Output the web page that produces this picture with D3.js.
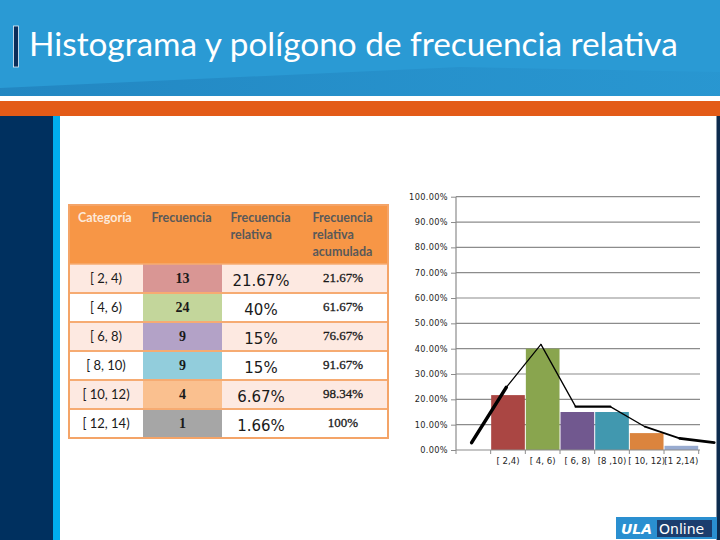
<!DOCTYPE html>
<html><head><meta charset="utf-8">
<script src="https://cdn.jsdelivr.net/npm/d3@7"></script>
<style>
html,body{margin:0;padding:0;background:#fff;}
svg{display:block;}
</style></head>
<body>
<svg id="c" width="720" height="540"></svg>
<script>
// ---- data ----
const titleText = "Histograma y polígono de frecuencia relativa";
const headers = [["Categoría"],["Frecuencia"],["Frecuencia","relativa"],["Frecuencia","relativa","acumulada"]];
const categories = ["[ 2, 4)","[ 4, 6)","[ 6, 8)","[ 8, 10)","[ 10, 12)","[ 12, 14)"];
const frequency = [13,24,9,9,4,1];
const relFreqLabels = ["21.67%","40%","15%","15%","6.67%","1.66%"];
const cumLabels = ["21.67%","61.67%","76.67%","91.67%","98.34%","100%"];
const relFreq = [21.67,40,15,15,6.67,1.66];
const axisLabels = ["","[ 2,4)","[ 4, 6)","[ 6, 8)","[8 ,10)","[ 10, 12)","[1 2,14)"];
const polygonValues = [2.9,24.7,41.7,17.1,17.1,9.2,4.6,2.9];
const yTickValues = [0,10,20,30,40,50,60,70,80,90,100];

// ---- styles ----
const barColors = ["#aa4643","#89a54e","#71588f","#4198af","#db843d","#98abd0"];
const cellColors = ["#d99694","#c3d69b","#b3a2c7","#92cddc","#fac08f","#a6a6a6"];
const segWidths = [3.5,1.2,1.3,2.2,1.3,1.8,2.6];

const svg = d3.select("#c");

// ---- slide frame ----
const defs = svg.append("defs");
const g1 = defs.append("linearGradient").attr("id","wedge").attr("x1","0").attr("x2","1").attr("y1","0").attr("y2","0");
g1.append("stop").attr("offset","0").attr("stop-color","#1c77b3").attr("stop-opacity",0.55);
g1.append("stop").attr("offset","0.6").attr("stop-color","#1c77b3").attr("stop-opacity",0.25);
g1.append("stop").attr("offset","1").attr("stop-color","#1c77b3").attr("stop-opacity",0.1);
svg.append("rect").attr("x",0).attr("y",0).attr("width",720).attr("height",96).attr("fill","#2a9ad4");
svg.append("path").attr("d","M0,88 L460,67 L720,72 L720,96 L0,96 Z").attr("fill","url(#wedge)");
svg.append("rect").attr("x",0).attr("y",101).attr("width",720).attr("height",15).attr("fill","#e35b18");
svg.append("rect").attr("x",0).attr("y",116).attr("width",53).attr("height",424).attr("fill","#00305f");
svg.append("rect").attr("x",53).attr("y",116).attr("width",7).attr("height",424).attr("fill","#00aeef");
svg.append("rect").attr("x",716.5).attr("y",116).attr("width",3.5).attr("height",424).attr("fill","#0d2b4e");

// title
svg.append("rect").attr("x",13.5).attr("y",26).attr("width",5).attr("height",41).attr("fill","#0b2d5a")
  .attr("stroke","#e8f2fa").attr("stroke-width",0.8);
const title = svg.append("text").attr("x",29).attr("y",56).attr("fill","#ffffff")
  .attr("font-family","Lato, 'Open Sans', sans-serif").attr("font-size",31).text(titleText);
const tw = title.node().getComputedTextLength();
title.attr("font-size", 31*649/tw);

// ---- table ----
const tx0 = 69, tx1 = 388;
const colEdges = [69,143,222,304,388];
const headerTop = 205, headerBottom = 264, tableBottom = 438;
const rowY = d3.scaleBand().domain(d3.range(categories.length)).range([headerBottom, tableBottom]);
const tbl = svg.append("g");
tbl.append("rect").attr("x",tx0).attr("y",headerTop).attr("width",tx1-tx0).attr("height",headerBottom-headerTop).attr("fill","#f79646");
categories.forEach((c,i)=>{
  const y0 = rowY(i), h = rowY.bandwidth();
  tbl.append("rect").attr("x",tx0).attr("y",y0).attr("width",tx1-tx0).attr("height",h).attr("fill", i%2===0 ? "#fde9e1" : "#ffffff");
  tbl.append("rect").attr("x",colEdges[1]).attr("y",y0).attr("width",colEdges[2]-colEdges[1]).attr("height",h).attr("fill",cellColors[i]);
  if(i>0) tbl.append("line").attr("x1",tx0).attr("x2",tx1).attr("y1",y0).attr("y2",y0).attr("stroke","#f6ab72").attr("stroke-width",2.2);
  const cy = y0 + h/2;
  tbl.append("text").attr("x",(colEdges[0]+colEdges[1])/2).attr("y",cy+4.5).attr("text-anchor","middle")
    .attr("font-family","Lato, sans-serif").attr("font-size",13).attr("fill","#1a1a1a").text(c);
  tbl.append("text").attr("x",(colEdges[1]+colEdges[2])/2).attr("y",cy+4.5).attr("text-anchor","middle")
    .attr("font-family","'Liberation Serif', serif").attr("font-weight","bold").attr("font-size",14).attr("fill","#1a1a1a").text(frequency[i]);
  tbl.append("text").attr("x",(colEdges[2]+colEdges[3])/2 - 2).attr("y",cy+7).attr("text-anchor","middle")
    .attr("font-family","'DejaVu Sans', sans-serif").attr("font-size",15).attr("fill","#1a1a1a").text(relFreqLabels[i]);
  tbl.append("text").attr("x",(colEdges[3]+colEdges[4])/2 - 3).attr("y",cy+3.5).attr("text-anchor","middle")
    .attr("font-family","'Liberation Serif', serif").attr("font-size",13).attr("fill","#1a1a1a")
    .attr("stroke","#1a1a1a").attr("stroke-width",0.3).text(cumLabels[i]);
});
tbl.append("line").attr("x1",tx0).attr("x2",tx1).attr("y1",headerBottom).attr("y2",headerBottom).attr("stroke","#f6ab72").attr("stroke-width",1.5);
tbl.append("rect").attr("x",tx0).attr("y",headerTop).attr("width",tx1-tx0).attr("height",tableBottom-headerTop)
  .attr("fill","none").attr("stroke","#f4a468").attr("stroke-width",2);
headers.forEach((lines,j)=>{
  lines.forEach((t,k)=>{
    tbl.append("text").attr("x",colEdges[j]+ (j===0?9:8.5)).attr("y",222+k*17)
      .attr("font-family","Lato, sans-serif").attr("font-weight","bold").attr("font-size",12.5)
      .attr("fill", j===0 ? "#fde9d9" : "#595959").text(t);
  });
});

// ---- chart ----
const y = d3.scaleLinear().domain([0,100]).range([450,196.7]);
const x = d3.scaleBand().domain(axisLabels).range([456,698.7]).paddingInner(0).paddingOuter(0);
const xi = d3.scaleLinear().domain([0,axisLabels.length]).range([456,698.7]);
const ch = svg.append("g");

// gridlines
ch.selectAll("line.grid").data(yTickValues.filter(d=>d>0)).join("line").attr("class","grid")
  .attr("x1",456).attr("x2",700).attr("y1",d=>y(d)).attr("y2",d=>y(d))
  .attr("stroke","#8c8c8c").attr("stroke-width",1.2);

// y axis
const yAxis = ch.append("g").attr("transform","translate(456,0)")
  .call(d3.axisLeft(y).tickValues(yTickValues).tickFormat(d=>d.toFixed(2)+"%").tickSize(5).tickPadding(3));
yAxis.select(".domain").attr("stroke","#8c8c8c").attr("stroke-width",1.2).attr("d","M0,196.7V450");
yAxis.selectAll(".tick line").attr("stroke","#8c8c8c");
yAxis.selectAll("text").attr("font-family","'DejaVu Sans', sans-serif").attr("font-size",8.2).attr("fill","#262626").attr("letter-spacing",0.35);

// bars
ch.selectAll("rect.bar").data(relFreq).join("rect").attr("class","bar")
  .attr("x",(d,i)=>x(axisLabels[i+1])+0.5).attr("width",x.bandwidth()-1)
  .attr("y",d=>y(d)).attr("height",d=>y(0)-y(d)).attr("fill",(d,i)=>barColors[i]);

// x axis
const xAxis = ch.append("g").attr("transform","translate(0,450)")
  .call(d3.axisBottom(x).tickSize(0).tickPadding(8));
xAxis.select(".domain").attr("stroke","#8c8c8c").attr("stroke-width",1.2).attr("d","M456,0H700");
xAxis.selectAll("text").attr("font-family","'DejaVu Sans', sans-serif").attr("font-size",8.6).attr("fill","#262626");
ch.selectAll("line.xt").data(d3.range(axisLabels.length+1)).join("line").attr("class","xt")
  .attr("x1",d=>xi(d)).attr("x2",d=>xi(d)).attr("y1",450).attr("y2",454).attr("stroke","#8c8c8c");

// frequency polygon
const pts = polygonValues.map((v,i)=>[xi(i+0.45), y(v)]);
for(let i=0;i<pts.length-1;i++){
  ch.append("line").attr("x1",pts[i][0]).attr("y1",pts[i][1]).attr("x2",pts[i+1][0]).attr("y2",pts[i+1][1])
    .attr("stroke","#000").attr("stroke-width",segWidths[i]).attr("stroke-linecap","round");
}

// ---- logo ----
const lg = svg.append("g");
lg.append("rect").attr("x",616).attr("y",517).attr("width",101).attr("height",22).attr("fill","#2a8fd0");
lg.append("rect").attr("x",657).attr("y",520).attr("width",55).attr("height",17).attr("fill","#1b3d6e");
lg.append("text").attr("x",621).attr("y",534).attr("fill","#fff").attr("font-family","'DejaVu Sans', sans-serif")
  .attr("font-weight","bold").attr("font-style","italic").attr("font-size",14).text("ULA");
lg.append("text").attr("x",659).attr("y",534).attr("fill","#fff").attr("font-family","'DejaVu Sans', sans-serif")
  .attr("font-size",14).text("Online");
</script>
</body></html>
